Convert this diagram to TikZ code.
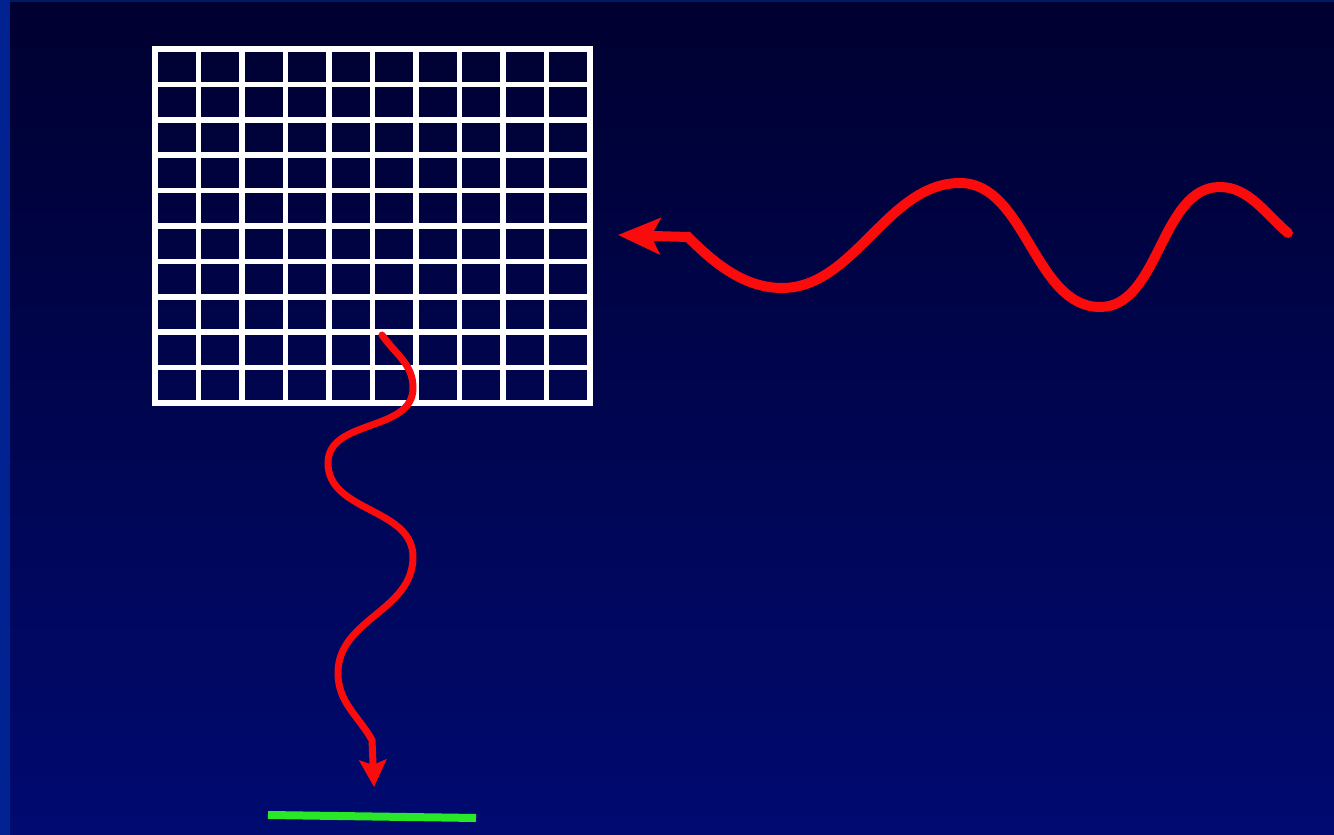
\documentclass[tikz,border=0pt]{standalone}
\usepackage{tikz}
\usetikzlibrary{arrows.meta,calc}
\definecolor{bgtop}{RGB}{0, 0, 48}
\definecolor{bgbottom}{RGB}{0, 10, 112}
\definecolor{edgecolor}{RGB}{0, 35, 145}
\definecolor{topedgecolor}{RGB}{0, 25, 105}
\definecolor{wavecolor}{RGB}{250, 12, 12}
\definecolor{detectorcolor}{RGB}{40, 232, 40}
\tikzset{
gridline/.style={
  draw=white,
  line width=5.5pt,
  line cap=rect
},
inwave/.style={
  draw=wavecolor,
  line width=10pt,
  line cap=round,
  looseness=0.9,
  -{Stealth[length=42pt,width=36pt,inset=9pt]}
},
outwave/.style={
  draw=wavecolor,
  line width=7pt,
  line cap=round,
  looseness=1,
  -{Stealth[length=27pt,width=27pt,inset=5pt]}
},
detectorline/.style={
  draw=detectorcolor,
  line width=8pt
}
}
\begin{document}
\begin{tikzpicture}[x=1pt, y=1pt]

% ============================================================================
% Fundo
% ============================================================================
\useasboundingbox (0,0) rectangle (1334,835);
\fill[edgecolor] (0,0) rectangle (1334,835);
\fill[topedgecolor] (10,820) rectangle (1334,835);
\shade[top color=bgtop, bottom color=bgbottom] (10,0) rectangle (1334,832);

% ============================================================================
% Grade
% ============================================================================
\coordinate (grid_sw) at (155,432);
\coordinate (grid_ne) at (590,786);
\foreach \i in {0,...,10} {
  \draw[gridline] ($(grid_sw)+(43.5*\i,0)$) -- ($(grid_sw)+(43.5*\i,354)$);
  \draw[gridline] ($(grid_sw)+(0,35.4*\i)$) -- ($(grid_sw)+(435,35.4*\i)$);
}

% ============================================================================
% Onda incidente
% ============================================================================
\coordinate (in_start) at (1288,602);
\coordinate (in_tip) at (618,600);
\draw[inwave] (in_start)
  to[out=140, in=0] (1220,648)
  to[out=180, in=0] (1100,528)
  to[out=180, in=0] (960,652)
  to[out=180, in=0] (782,547)
  to[out=180, in=-45] (688,598)
  -- (in_tip);

% ============================================================================
% Onda emitida
% ============================================================================
\coordinate (out_start) at (382,500);
\coordinate (out_tip) at (374,48);
\draw[outwave] (out_start)
  to[out=-55, in=90] (413,447)
  to[out=-90, in=90] (328,372)
  to[out=-90, in=90] (413,278)
  to[out=-90, in=90] (338,162)
  to[out=-90, in=120] (372,95)
  -- (out_tip);

% ============================================================================
% Detector
% ============================================================================
\coordinate (det_w) at (268,20);
\coordinate (det_e) at (476,17);
\draw[detectorline] (det_w) -- (det_e);

\end{tikzpicture}
\end{document}
